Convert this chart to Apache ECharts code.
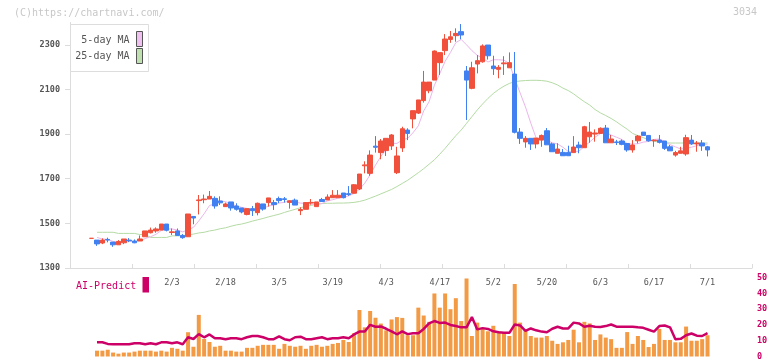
<!DOCTYPE html>
<html><head><meta charset="utf-8">
<script src="https://cdn.jsdelivr.net/npm/echarts@6/dist/echarts.min.js"></script>
<style>html,body{margin:0;padding:0;background:#fff}#c{width:772px;height:361px}</style>
</head><body><div id="c"></div>
<script>
const dates = ['1/10','1/14','1/15','1/16','1/17','1/20','1/21','1/22','1/23','1/24','1/27','1/28','1/29','1/30','1/31',
'2/3','2/4','2/5','2/6','2/7','2/10','2/12','2/13','2/14','2/17','2/18','2/19','2/20','2/21','2/25','2/26','2/27','2/28',
'3/3','3/4','3/5','3/6','3/7','3/10','3/11','3/12','3/13','3/14','3/17','3/18','3/19','3/21','3/24','3/25','3/26','3/27','3/28','3/31',
'4/1','4/2','4/3','4/4','4/7','4/8','4/9','4/10','4/11','4/14','4/15','4/16','4/17','4/18','4/21','4/22','4/23','4/24','4/25','4/28','4/30',
'5/1','5/2','5/7','5/8','5/9','5/12','5/13','5/14','5/15','5/16','5/19','5/20','5/21','5/22','5/23','5/26','5/27','5/28','5/29','5/30',
'6/2','6/3','6/4','6/5','6/6','6/9','6/10','6/11','6/12','6/13','6/16','6/17','6/18','6/19','6/20','6/23','6/24','6/25','6/26','6/27','6/30',
'7/1'];

const openP = [1433,1425,1412,1428,1416,1404,1413,1425,1421,1421,
 1440,1458,1466,1470,1497,1459,1466,1446,1440,1531,
 1602,1606,1609,1612,1600,1575,1596,1578,1569,1540,
 1566,1548,1587,1593,1593,1611,1610,1594,1604,1557,
 1563,1591,1575,1607,1605,1615,1615,1636,1633,1635,
 1654,1758,1724,1846,1817,1826,1847,1727,1838,1918,
 1968,1994,2050,2094,2142,2220,2274,2324,2341,2359,
 2183,2105,2214,2224,2299,2205,2190,2215,2197,2169,
 1909,1865,1881,1856,1873,1915,1856,1814,1818,1818,
 1817,1851,1839,1888,1900,1903,1927,1861,1865,1869,
 1858,1829,1870,1909,1894,1870,1873,1869,1843,1806,
 1814,1811,1873,1856,1860,1843];

const closeP = [1433,1408,1425,1425,1404,1419,1430,1422,1413,1430,
 1466,1470,1475,1497,1469,1462,1446,1436,1542,1524,
 1605,1609,1621,1578,1592,1587,1569,1563,1551,1566,
 1557,1590,1564,1614,1584,1602,1607,1601,1582,1562,
 1593,1594,1596,1598,1618,1626,1626,1615,1629,1673,
 1721,1762,1806,1841,1869,1881,1896,1802,1924,1903,
 2005,2053,2133,2133,2272,2265,2326,2336,2351,2344,
 2142,2197,2229,2295,2251,2193,2199,2219,2220,1908,
 1881,1881,1856,1882,1894,1852,1821,1833,1803,1803,
 1842,1839,1933,1909,1905,1926,1861,1878,1862,1854,
 1829,1851,1891,1894,1870,1873,1863,1836,1825,1817,
 1825,1884,1856,1860,1847,1829];

const lowP = [1433,1399,1407,1415,1395,1404,1407,1416,1411,1421,
 1440,1455,1458,1470,1464,1448,1446,1431,1440,1496,
 1540,1590,1609,1566,1582,1575,1557,1557,1545,1536,
 1533,1536,1557,1575,1560,1591,1593,1566,1582,1537,
 1563,1584,1575,1596,1605,1615,1615,1612,1623,1635,
 1649,1724,1713,1817,1787,1802,1829,1721,1820,1873,
 1926,1990,2041,2083,2142,2165,2254,2309,2314,2325,
 1963,2101,2172,2220,2234,2165,2150,2165,2197,1903,
 1856,1839,1829,1836,1843,1852,1821,1814,1803,1803,
 1817,1814,1839,1861,1866,1903,1861,1861,1851,1850,
 1821,1817,1858,1894,1866,1843,1858,1829,1825,1799,
 1814,1803,1852,1821,1825,1800];

const highP = [1433,1425,1433,1436,1416,1425,1430,1434,1428,1446,
 1466,1481,1482,1497,1497,1477,1477,1452,1542,1531,
 1627,1629,1645,1621,1621,1593,1596,1590,1569,1566,
 1578,1593,1587,1614,1605,1620,1618,1603,1611,1572,
 1595,1609,1596,1614,1630,1649,1649,1636,1667,1676,
 1721,1778,1827,1891,1878,1881,1900,1843,1933,1926,
 2005,2053,2183,2133,2275,2265,2348,2362,2374,2393,
 2205,2224,2254,2302,2299,2251,2209,2249,2266,2268,
 1927,1891,1881,1882,1898,1927,1862,1859,1833,1848,
 1891,1866,1937,1954,1921,1930,1941,1896,1874,1876,
 1858,1873,1896,1909,1894,1876,1896,1869,1851,1825,
 1843,1897,1896,1869,1873,1847];

const ma5 = [null,1437,1430,1428,1419,1416,1421,1420,1418,1423,
 1432,1440,1451,1468,1475,1475,1470,1462,1471,1482,
 1511,1543,1580,1587,1601,1597,1589,1578,1572,1567,
 1561,1565,1566,1578,1582,1591,1594,1602,1595,1591,
 1589,1586,1585,1589,1600,1606,1613,1617,1623,1634,
 1653,1680,1718,1761,1800,1832,1859,1858,1874,1881,
 1906,1937,2004,2045,2119,2171,2226,2266,2310,2324,
 2300,2274,2253,2241,2223,2233,2233,2231,2216,2148,
 2085,2022,1949,1882,1879,1873,1861,1856,1841,1822,
 1820,1824,1844,1865,1886,1902,1907,1896,1886,1876,
 1857,1855,1857,1864,1867,1876,1878,1867,1853,1843,
 1833,1837,1841,1848,1854,1855];

const ma25 = [null,1460,1460,1460,1460,1455,1455,1455,1455,1450,
 1450,1437,1437,1437,1437,1444,1444,1444,1448,1452,
 1457,1460,1466,1470,1476,1480,1487,1493,1497,1503,
 1510,1516,1522,1529,1535,1541,1549,1556,1563,1570,
 1576,1581,1585,1589,1590,1590,1591,1591,1592,1594,
 1598,1604,1613,1622,1632,1642,1652,1665,1679,1693,
 1710,1727,1745,1765,1785,1810,1836,1865,1893,1918,
 1948,1978,2008,2035,2060,2082,2100,2115,2127,2135,
 2138,2140,2141,2141,2140,2137,2130,2120,2106,2095,
 2080,2062,2045,2030,2010,1995,1983,1970,1955,1938,
 1922,1903,1893,1884,1875,1868,1864,1861,1860,1860,
 1860,1860,1860,1860,1860,1860];

const volume = [null,3.7,3.7,4.3,2.5,1.8,2.5,2.5,3.1,3.7,
 3.7,3.7,3.1,3.7,3.1,5.5,4.9,3.7,15.4,6.2,
 26.4,11.1,9.2,6.2,6.8,3.7,3.7,3.1,3.1,5.5,
 5.5,6.8,7.4,7.4,7.4,4.9,8.0,6.8,6.2,6.8,
 4.9,6.8,7.4,6.2,6.8,8.0,8.6,10.5,9.2,14.8,
 29.5,18.5,28.9,24.6,20.9,16.6,23.5,25,24.5,13.5,
 13.5,31,26,22,40,31,40,30,37,22.5,
 49.5,13,21.5,18,16,19.5,16,15,13,46,
 21.5,17,13,12,12,13,10,8,9,10.5,
 17,9,22,21,10.5,14,12,11,5.5,5.5,
 15.5,8,13,10.5,6,8,17.5,10.5,10.5,9,
 9,19,10,10,11,13.5];

const aiPredict = [null,9.0,9.0,8.0,7.8,7.8,7.8,7.8,8.4,8.4,
 7.8,8.4,7.8,9.0,9.0,8.4,9.0,7.8,12.2,11.1,
 14.2,12.2,14.0,11.6,11.6,11.0,11.6,11.6,11.0,12.2,
 13.0,13.0,12.2,11.0,11.0,12.8,11.0,10.3,12.2,12.6,
 11.0,11.0,11.6,12.2,11.0,11.6,11.6,12.2,11.6,14.0,
 15.8,15.8,20.1,18.9,19.1,17.6,16.0,14.1,15.9,14.2,
 14.8,14.8,17.5,21.0,22.5,21.3,21.5,20.0,19.3,18.5,
 18.5,25.0,17.2,18.0,17.5,16.0,15.4,15.0,15.0,20.3,
 19.7,16.2,17.8,16.6,15.8,15.4,17.6,18.9,17.8,17.8,
 21.5,21.0,18.9,19.5,18.9,18.7,19.3,20.3,18.9,18.9,
 18.9,18.9,18.5,18.2,17.0,15.8,19.3,19.7,18.5,11.0,
 11.2,13.5,14.6,13.2,13.0,14.8];

const tickLabels = ['2/3','2/18','3/5','3/19','4/3','4/17','5/2','5/20','6/3','6/17','7/1'];
const priceTicks = [1300,1500,1700,1900,2100,2300];
const volTicks = [0,10,20,30,40,50];

const ohlc = dates.map((d, i) => [openP[i], closeP[i], lowP[i], highP[i]]);

const MONO = "'DejaVu Sans Mono','Liberation Mono',monospace";
const UP = '#f0503c', DOWN = '#4080f0', MAG = '#cc0066';
const AX = '#dcdcdc';

const chart = echarts.init(document.getElementById('c'), null, {renderer: 'canvas'});
chart.setOption({
  animation: false,
  backgroundColor: '#fff',
  grid: [
    {left: 70, right: 20, top: 22.5, bottom: 93},
    {left: 89, right: 61.8, top: 22.5, bottom: 93},
    {left: 89, right: 61.8, top: 277.7, bottom: 2.5}
  ],
  xAxis: [
    {type: 'value', gridIndex: 0, min: 0, max: 11, interval: 1,
     axisLine: {show: true, lineStyle: {color: AX, width: 1}},
     axisTick: {show: true, inside: true, length: 4, lineStyle: {color: AX}},
     axisLabel: {show: false}, splitLine: {show: false}},
    {type: 'category', gridIndex: 1, data: dates, boundaryGap: true,
     axisLine: {show: false}, axisTick: {show: false}, splitLine: {show: false},
     axisLabel: {interval: (idx, val) => tickLabels.indexOf(val) >= 0,
       margin: 10, color: '#555', fontFamily: MONO, fontSize: 8.5}},
    {type: 'category', gridIndex: 2, data: dates, boundaryGap: true, show: false}
  ],
  yAxis: [
    {type: 'value', gridIndex: 0, min: 1300, max: 2400, position: 'left',
     axisLine: {show: true, lineStyle: {color: AX, width: 1}},
     axisTick: {show: true, length: 5, customValues: priceTicks, lineStyle: {color: AX}},
     axisLabel: {customValues: priceTicks, formatter: v => String(v), margin: 10, color: '#555', fontFamily: MONO, fontSize: 8.5, fontWeight: 'bold'},
     splitLine: {show: false}},
    {type: 'value', gridIndex: 1, min: 1300, max: 2400, show: false},
    {type: 'value', gridIndex: 2, min: 0, max: 50, position: 'right', offset: 41.8,
     axisLine: {show: false}, axisTick: {show: false}, splitLine: {show: false},
     axisLabel: {customValues: volTicks, formatter: v => String(v), margin: 5, color: MAG, fontFamily: MONO, fontSize: 8.5, fontWeight: 'bold'}}
  ],
  series: [
    {type: 'line', name: '25-day MA', xAxisIndex: 1, yAxisIndex: 1, data: ma25, symbol: 'none',
     lineStyle: {color: '#b5dba5', width: 1}, z: 2},
    {type: 'line', name: '5-day MA', xAxisIndex: 1, yAxisIndex: 1, data: ma5, symbol: 'none',
     lineStyle: {color: '#ebb6eb', width: 1}, z: 2},
    {type: 'candlestick', xAxisIndex: 1, yAxisIndex: 1, data: ohlc, barWidth: 5, z: 3,
     itemStyle: {color: UP, color0: DOWN, borderColor: UP, borderColor0: DOWN, borderWidth: 1}},
    {type: 'bar', xAxisIndex: 2, yAxisIndex: 2, data: volume, barWidth: 4,
     itemStyle: {color: '#f39a45'}, z: 2},
    {type: 'line', name: 'AI-Predict', xAxisIndex: 2, yAxisIndex: 2, data: aiPredict, symbol: 'none',
     lineStyle: {color: MAG, width: 2.5}, z: 3}
  ],
  graphic: [
    {type: 'text', x: 14, y: 13, style: {text: '(C)https://chartnavi.com/', font: '10px ' + MONO, fill: '#c8c8c8', verticalAlign: 'middle', textVerticalAlign: 'middle'}},
    {type: 'text', x: 757, y: 12, style: {text: '3034', font: '10px ' + MONO, fill: '#c8c8c8', align: 'right', textAlign: 'right', verticalAlign: 'middle', textVerticalAlign: 'middle'}},
    {type: 'rect', shape: {x: 70.5, y: 24.5, width: 78, height: 47}, style: {fill: '#fff', stroke: '#dddddd', lineWidth: 1}, z: 10},
    {type: 'text', x: 129.5, y: 40, z: 11, style: {text: '5-day MA', font: '10px ' + MONO, fill: '#555', align: 'right', textAlign: 'right', verticalAlign: 'middle', textVerticalAlign: 'middle'}},
    {type: 'text', x: 129.5, y: 56.5, z: 11, style: {text: '25-day MA', font: '10px ' + MONO, fill: '#555', align: 'right', textAlign: 'right', verticalAlign: 'middle', textVerticalAlign: 'middle'}},
    {type: 'rect', z: 11, shape: {x: 136.5, y: 31.5, width: 6, height: 15}, style: {fill: '#f0c0f0', stroke: '#555', lineWidth: 1}},
    {type: 'rect', z: 11, shape: {x: 136.5, y: 48.5, width: 6, height: 15}, style: {fill: '#c0e0b0', stroke: '#555', lineWidth: 1}},
    {type: 'text', x: 76, y: 286, style: {text: 'AI-Predict', font: '10px ' + MONO, fill: MAG, verticalAlign: 'middle', textVerticalAlign: 'middle'}},
    {type: 'rect', shape: {x: 142.5, y: 277, width: 6.5, height: 15.5}, style: {fill: MAG}}
  ]
});
</script></body></html>
